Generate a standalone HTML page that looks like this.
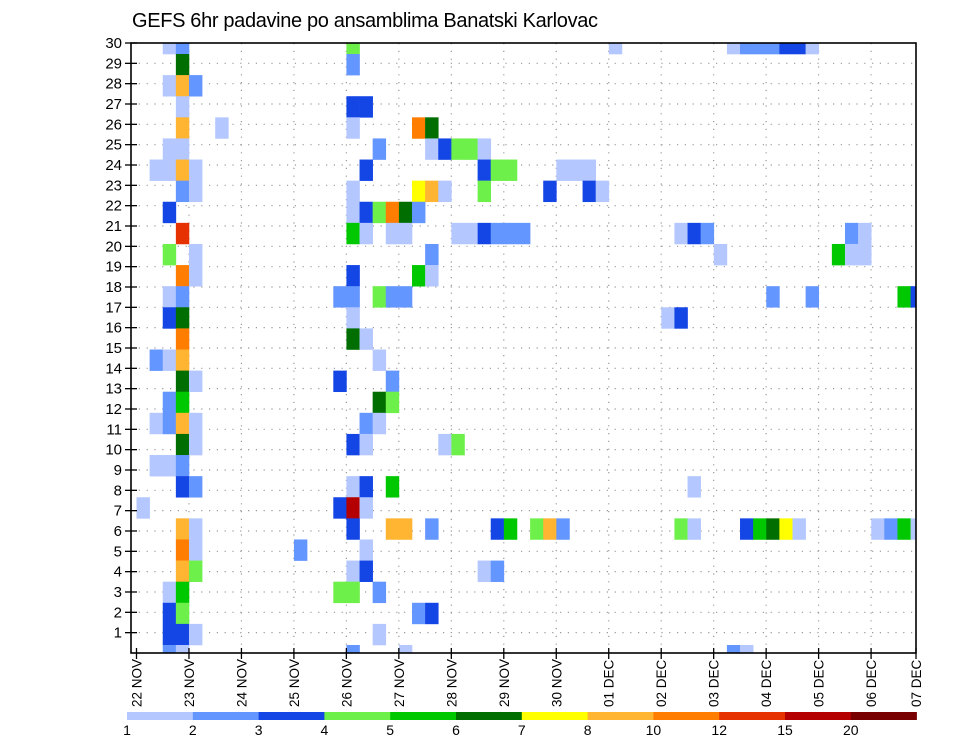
<!DOCTYPE html>
<html><head><meta charset="utf-8"><style>
html,body{margin:0;padding:0;background:#fff}
svg{display:block;font-family:"Liberation Sans",sans-serif}
</style></head><body>
<svg id="chart" width="960" height="742" viewBox="0 0 960 742" xmlns="http://www.w3.org/2000/svg">
<defs><clipPath id="plotclip"><rect x="131" y="43" width="785" height="610"/></clipPath></defs>
<text x="132" y="27" font-size="20" textLength="466" fill="#000">GEFS 6hr padavine po ansamblima Banatski Karlovac</text>
<g id="grid"></g>
<g id="cells" clip-path="url(#plotclip)"></g>
<rect x="131" y="43" width="785" height="610" fill="none" stroke="#000" stroke-width="1.6"/>
<g id="yaxis"></g>
<g id="xaxis"></g>
<g id="legend"></g>
</svg>
<script>
// data: 6-hour step index from 22 NOV 00Z, ensemble member, precipitation (mm)
const cellStep = [2,3,16,36,45,46,47,48,49,50,51, 3,16, 2,3,4, 3,16,17, 3,6,16,21,22, 2,3,18,22,23,24,25,26,
1,2,3,4,17,26,27,28,32,33,34, 3,4,16,21,22,23,26,31,34,35, 2,16,17,18,19,20,21,
3,16,17,19,20,24,25,26,27,28,29,41,42,43,54,55, 2,4,22,44,53,54,55, 3,4,16,21,22,
2,3,15,16,18,19,20,48,51,58,59, 2,3,16,40,41, 3,16,17, 1,2,3,18, 3,4,15,19, 2,3,18,19,
1,2,3,4,17,18, 3,4,16,17,23,24, 1,2,3, 3,4,16,17,19,42, 0,15,16,17,
3,4,16,19,20,22,27,28,30,31,32,41,42,46,47,48,49,50,56,57,58,59, 3,4,12,17, 3,4,16,17,26,27,
2,3,15,16,18, 2,3,21,22, 2,3,4,18, 2,3,16,20,45,46];
const cellMember = [30,30,30,30,30,30,30,30,30,30,30, 29,29, 28,28,28, 27,27,27, 26,26,26,26,26, 25,25,25,25,25,25,25,25,
24,24,24,24,24,24,24,24,24,24,24, 23,23,23,23,23,23,23,23,23,23, 22,22,22,22,22,22,22,
21,21,21,21,21,21,21,21,21,21,21,21,21,21,21,21, 20,20,20,20,20,20,20, 19,19,19,19,19,
18,18,18,18,18,18,18,18,18,18,18, 17,17,17,17,17, 16,16,16, 15,15,15,15, 14,14,14,14, 13,13,13,13,
12,12,12,12,12,12, 11,11,11,11,11,11, 10,10,10, 9,9,9,9,9,9, 8,8,8,8,
7,7,7,7,7,7,7,7,7,7,7,7,7,7,7,7,7,7,7,7,7,7, 6,6,6,6, 5,5,5,5,5,5,
4,4,4,4,4, 3,3,3,3, 2,2,2,2, 1,1,1,1,1,1];
const cellPrecip = [1.5,2.5,4.5,1.5,1.5,2.5,2.5,2.5,3.5,3.5,1.5, 6.5,2.5, 1.5,9,2.5, 1.5,3.5,3.5, 9,1.5,1.5,11,6.5, 1.5,1.5,2.5,1.5,3.5,4.5,4.5,1.5,
1.5,1.5,9,1.5,3.5,3.5,4.5,4.5,1.5,1.5,1.5, 2.5,1.5,1.5,7.5,9,1.5,4.5,3.5,3.5,1.5, 3.5,1.5,3.5,4.5,11,6.5,2.5,
13.5,5.5,1.5,1.5,1.5,1.5,1.5,3.5,2.5,2.5,2.5,1.5,3.5,2.5,2.5,1.5, 4.5,1.5,2.5,1.5,5.5,1.5,1.5, 11,1.5,3.5,5.5,1.5,
1.5,2.5,2.5,2.5,4.5,2.5,2.5,2.5,2.5,5.5,3.5, 3.5,6.5,1.5,1.5,3.5, 11,6.5,1.5, 2.5,1.5,9,1.5, 6.5,1.5,3.5,2.5, 2.5,5.5,6.5,4.5,
1.5,2.5,9,1.5,2.5,1.5, 6.5,1.5,3.5,1.5,1.5,4.5, 1.5,1.5,2.5, 3.5,2.5,1.5,3.5,5.5,1.5, 1.5,3.5,17,1.5,
9,1.5,3.5,9,9,2.5,3.5,5.5,4.5,9,2.5,4.5,1.5,3.5,5.5,6.5,7.5,1.5,1.5,2.5,5.5,1.5, 11,1.5,2.5,1.5, 9,4.5,1.5,3.5,1.5,2.5,
1.5,5.5,4.5,4.5,2.5, 3.5,4.5,2.5,3.5, 3.5,3.5,1.5,1.5, 2.5,1.5,2.5,1.5,2.5,1.5];
const levels = [1,2,3,4,5,6,7,8,10,12,15,20];
const levelLabels = ["1","2","3","4","5","6","7","8","10","12","15","20"];
const dayLabels = ["22 NOV","23 NOV","24 NOV","25 NOV","26 NOV","27 NOV","28 NOV","29 NOV","30 NOV","01 DEC","02 DEC","03 DEC","04 DEC","05 DEC","06 DEC","07 DEC"];
const memberTicks = [1,2,3,4,5,6,7,8,9,10,11,12,13,14,15,16,17,18,19,20,21,22,23,24,25,26,27,28,29,30];
const colors = ["#b4c8ff","#6496ff","#1446e6","#6ef04a","#00c800","#006e00","#ffff00","#ffb432","#ff7d00","#e63200","#b40000","#780000"];

const NS="http://www.w3.org/2000/svg";
const CW=13.12, X0=136.5, DAY=52.47;
function xStep(s){return X0+s*CW;}
function xDay(d){return d>=15?916:X0+d*DAY;}
function yMember(m){return 54+21.107*(29-m);}
const CH=21.107;
function yTick(t){return 43+(30-t)*20.333;}
function colorFor(v){let i=-1;for(let j=0;j<levels.length;j++){if(v>=levels[j])i=j;}return i<0?null:colors[i];}
function mk(tag,attrs,parent){const e=document.createElementNS(NS,tag);for(const k in attrs)e.setAttribute(k,attrs[k]);parent.appendChild(e);return e;}

const grid=document.getElementById('grid');
for(const t of memberTicks){ if(t===30) continue;
  const l=mk('line',{x1:131,x2:916,y1:yTick(t),y2:yTick(t),stroke:'#999','stroke-width':1.2,'stroke-dasharray':'1.2,6.6'},grid);
  
  
}
for(let d=1;d<15;d++){
  const l=mk('line',{x1:xDay(d),x2:xDay(d),y1:43,y2:653,stroke:'#999','stroke-width':1.2,'stroke-dasharray':'1.2,6.6'},grid);
  
  
}

const cg=document.getElementById('cells');
for(let i=0;i<cellStep.length;i++){
  const c=colorFor(cellPrecip[i]); if(!c) continue;
  const r=mk('rect',{x:xStep(cellStep[i]),y:yMember(cellMember[i]),width:CW+0.3,height:CH+0.3,fill:c},cg);
  
  
}

const ya=document.getElementById('yaxis');
for(const t of memberTicks){
  const y=yTick(t);
  const tk=mk('line',{x1:125,x2:137,y1:y,y2:y,stroke:'#000','stroke-width':1.3},ya);
  
  
  const tx=mk('text',{x:122,y:y+5,'font-size':15,'text-anchor':'end',fill:'#000'},ya);
  tx.textContent=String(t);
  
  
}

const xa=document.getElementById('xaxis');
for(let d=0;d<dayLabels.length;d++){
  const x=xDay(d);
  const tk=mk('line',{x1:x,x2:x,y1:648,y2:659,stroke:'#000','stroke-width':1.3},xa);
  
  
  const tx=mk('text',{x:0,y:0,'font-size':13.5,fill:'#000',transform:'translate('+(x+5)+',707) rotate(-90)'},xa);
  tx.textContent=dayLabels[d];
  
  
}

const lg=document.getElementById('legend');
const LX=127, LW=65.8;
for(let i=0;i<colors.length;i++){
  const r=mk('rect',{x:LX+i*LW,y:712,width:LW+0.3,height:8,fill:colors[i]},lg);
  
  
}
for(let i=0;i<levelLabels.length;i++){
  const tx=mk('text',{x:LX+i*LW,y:735,'font-size':14,'text-anchor':'middle',fill:'#000'},lg);
  tx.textContent=levelLabels[i];
  
  
}
</script>
</body></html>
